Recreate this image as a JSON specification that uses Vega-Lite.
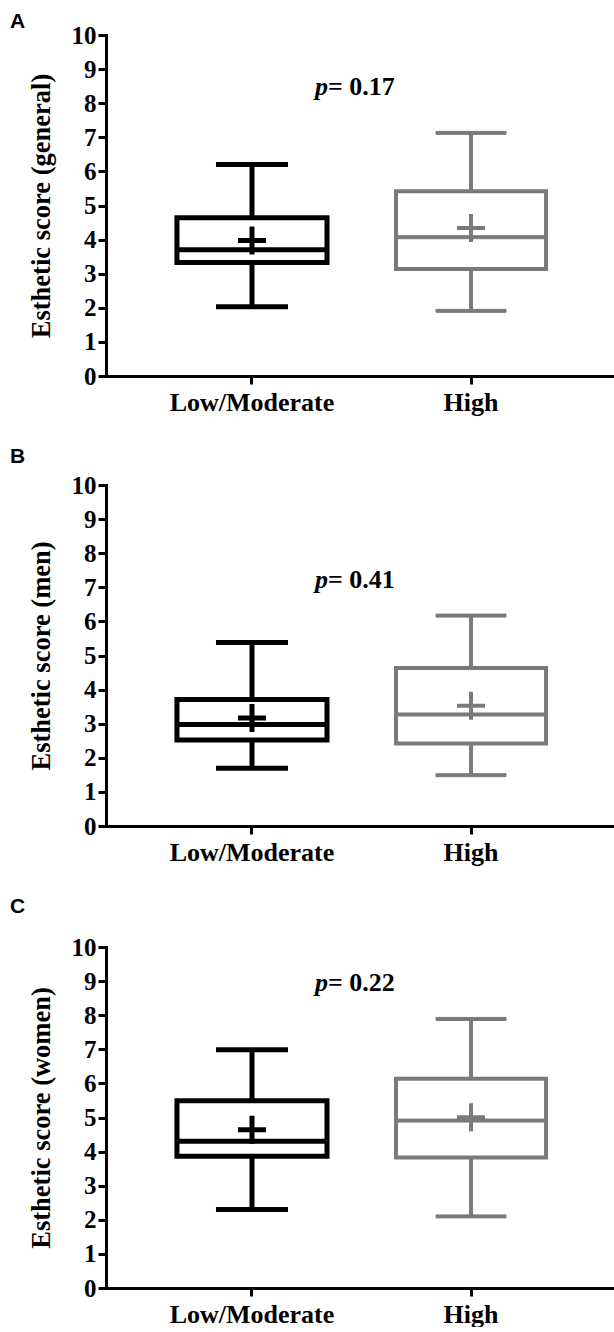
{
  "$schema": "https://vega.github.io/schema/vega-lite/v6.json",
  "background": "white",
  "padding": {"left": 10, "top": 11, "right": 0, "bottom": 0},
  "spacing": 31,
  "datasets": {
    "general": [
      {"group": "Low/Moderate", "min": 2.03, "q1": 3.33, "median": 3.70, "q3": 4.64, "max": 6.2, "mean": 3.97},
      {"group": "High", "min": 1.91, "q1": 3.14, "median": 4.07, "q3": 5.42, "max": 7.13, "mean": 4.34}
    ],
    "men": [
      {"group": "Low/Moderate", "min": 1.69, "q1": 2.52, "median": 2.98, "q3": 3.71, "max": 5.38, "mean": 3.17},
      {"group": "High", "min": 1.49, "q1": 2.42, "median": 3.27, "q3": 4.63, "max": 6.17, "mean": 3.53}
    ],
    "women": [
      {"group": "Low/Moderate", "min": 2.30, "q1": 3.86, "median": 4.30, "q3": 5.49, "max": 6.99, "mean": 4.64},
      {"group": "High", "min": 2.10, "q1": 3.83, "median": 4.91, "q3": 6.14, "max": 7.89, "mean": 5.01}
    ]
  },
  "vconcat": [
    {
      "title": {"text": "A", "offset": -9},
      "width": 511, "height": 341,
      "data": {"name": "general"},
      "encoding": {"x": {"field": "group", "type": "nominal", "sort": ["Low/Moderate", "High"], "scale": {"paddingInner": 0.315, "paddingOuter": 0.324}, "axis": {"title": null, "labelFont": "Liberation Serif", "labelFontWeight": "bold", "labelFontSize": 26, "labelPadding": 5, "labelAngle": 0}}},
      "layer": [
        {"mark": {"type": "rule"}, "encoding": {"y": {"field": "min", "type": "quantitative", "scale": {"domain": [0, 10], "nice": false}, "axis": {"title": "Esthetic score (general)", "labelFont": "Liberation Serif", "labelFontWeight": "bold", "labelFontSize": 25, "labelPadding": 2, "titleFont": "Liberation Serif", "titleFontSize": 26.5, "titlePadding": 16}}, "y2": {"field": "max"}, "color": {"field": "group", "type": "nominal", "scale": {"domain": ["Low/Moderate", "High"], "range": ["#000000", "#7a7a7a"]}, "legend": null}, "strokeWidth": {"condition": {"test": "datum.group === 'High'", "value": 4}, "value": 5}}},
        {"mark": {"type": "bar", "fill": "white"}, "encoding": {"y": {"field": "q1", "type": "quantitative"}, "y2": {"field": "q3"}, "stroke": {"field": "group", "type": "nominal", "scale": {"domain": ["Low/Moderate", "High"], "range": ["#000000", "#7a7a7a"]}, "legend": null}, "strokeWidth": {"condition": {"test": "datum.group === 'High'", "value": 4}, "value": 5}}},
        {"mark": {"type": "tick", "size": 148, "thickness": 3, "opacity": 1}, "encoding": {"y": {"field": "median", "type": "quantitative"}, "color": {"field": "group", "type": "nominal", "legend": null}, "stroke": {"field": "group", "type": "nominal", "legend": null}, "strokeWidth": {"condition": {"test": "datum.group === 'High'", "value": 1}, "value": 2}}},
        {"mark": {"type": "tick", "size": 70, "thickness": 3, "opacity": 1}, "encoding": {"y": {"field": "min", "type": "quantitative"}, "color": {"field": "group", "type": "nominal", "legend": null}, "stroke": {"field": "group", "type": "nominal", "legend": null}, "strokeWidth": {"condition": {"test": "datum.group === 'High'", "value": 1}, "value": 2}}},
        {"mark": {"type": "tick", "size": 70, "thickness": 3, "opacity": 1}, "encoding": {"y": {"field": "max", "type": "quantitative"}, "color": {"field": "group", "type": "nominal", "legend": null}, "stroke": {"field": "group", "type": "nominal", "legend": null}, "strokeWidth": {"condition": {"test": "datum.group === 'High'", "value": 1}, "value": 2}}},
        {"mark": {"type": "point", "shape": "M-1,0L1,0M0,-1L0,1", "size": 784, "filled": false, "opacity": 1}, "encoding": {"y": {"field": "mean", "type": "quantitative"}, "color": {"field": "group", "type": "nominal", "legend": null}, "strokeWidth": {"condition": {"test": "datum.group === 'High'", "value": 4}, "value": 5}}},
        {"data": {"values": [{"p": "= 0.17"}]}, "mark": {"type": "text", "align": "left", "baseline": "middle", "dx": -143, "font": "Liberation Serif", "fontWeight": "bold", "fontSize": 26, "color": "black"}, "encoding": {"x": {"datum": "High"}, "y": {"datum": 8.47}, "text": {"field": "p"}}},
        {"data": {"values": [{"p": "= 0.17"}]}, "mark": {"type": "text", "align": "right", "baseline": "middle", "dx": -143, "font": "Liberation Serif", "fontWeight": "bold", "fontStyle": "italic", "fontSize": 26, "color": "black", "text": "p"}, "encoding": {"x": {"datum": "High"}, "y": {"datum": 8.47}}}
      ]
    },
    {
      "title": {"text": "B", "offset": 6},
      "width": 511, "height": 341,
      "data": {"name": "men"},
      "encoding": {"x": {"field": "group", "type": "nominal", "sort": ["Low/Moderate", "High"], "scale": {"paddingInner": 0.315, "paddingOuter": 0.324}, "axis": {"title": null, "labelFont": "Liberation Serif", "labelFontWeight": "bold", "labelFontSize": 26, "labelPadding": 5, "labelAngle": 0}}},
      "layer": [
        {"mark": {"type": "rule"}, "encoding": {"y": {"field": "min", "type": "quantitative", "scale": {"domain": [0, 10], "nice": false}, "axis": {"title": "Esthetic score (men)", "labelFont": "Liberation Serif", "labelFontWeight": "bold", "labelFontSize": 25, "labelPadding": 2, "titleFont": "Liberation Serif", "titleFontSize": 26.5, "titlePadding": 16}}, "y2": {"field": "max"}, "color": {"field": "group", "type": "nominal", "scale": {"domain": ["Low/Moderate", "High"], "range": ["#000000", "#7a7a7a"]}, "legend": null}, "strokeWidth": {"condition": {"test": "datum.group === 'High'", "value": 4}, "value": 5}}},
        {"mark": {"type": "bar", "fill": "white"}, "encoding": {"y": {"field": "q1", "type": "quantitative"}, "y2": {"field": "q3"}, "stroke": {"field": "group", "type": "nominal", "scale": {"domain": ["Low/Moderate", "High"], "range": ["#000000", "#7a7a7a"]}, "legend": null}, "strokeWidth": {"condition": {"test": "datum.group === 'High'", "value": 4}, "value": 5}}},
        {"mark": {"type": "tick", "size": 148, "thickness": 3, "opacity": 1}, "encoding": {"y": {"field": "median", "type": "quantitative"}, "color": {"field": "group", "type": "nominal", "legend": null}, "stroke": {"field": "group", "type": "nominal", "legend": null}, "strokeWidth": {"condition": {"test": "datum.group === 'High'", "value": 1}, "value": 2}}},
        {"mark": {"type": "tick", "size": 70, "thickness": 3, "opacity": 1}, "encoding": {"y": {"field": "min", "type": "quantitative"}, "color": {"field": "group", "type": "nominal", "legend": null}, "stroke": {"field": "group", "type": "nominal", "legend": null}, "strokeWidth": {"condition": {"test": "datum.group === 'High'", "value": 1}, "value": 2}}},
        {"mark": {"type": "tick", "size": 70, "thickness": 3, "opacity": 1}, "encoding": {"y": {"field": "max", "type": "quantitative"}, "color": {"field": "group", "type": "nominal", "legend": null}, "stroke": {"field": "group", "type": "nominal", "legend": null}, "strokeWidth": {"condition": {"test": "datum.group === 'High'", "value": 1}, "value": 2}}},
        {"mark": {"type": "point", "shape": "M-1,0L1,0M0,-1L0,1", "size": 784, "filled": false, "opacity": 1}, "encoding": {"y": {"field": "mean", "type": "quantitative"}, "color": {"field": "group", "type": "nominal", "legend": null}, "strokeWidth": {"condition": {"test": "datum.group === 'High'", "value": 4}, "value": 5}}},
        {"data": {"values": [{"p": "= 0.41"}]}, "mark": {"type": "text", "align": "left", "baseline": "middle", "dx": -143, "font": "Liberation Serif", "fontWeight": "bold", "fontSize": 26, "color": "black"}, "encoding": {"x": {"datum": "High"}, "y": {"datum": 7.22}, "text": {"field": "p"}}},
        {"data": {"values": [{"p": "= 0.41"}]}, "mark": {"type": "text", "align": "right", "baseline": "middle", "dx": -143, "font": "Liberation Serif", "fontWeight": "bold", "fontStyle": "italic", "fontSize": 26, "color": "black", "text": "p"}, "encoding": {"x": {"datum": "High"}, "y": {"datum": 7.22}}}
      ]
    },
    {
      "title": {"text": "C", "offset": 18},
      "width": 511, "height": 341,
      "data": {"name": "women"},
      "encoding": {"x": {"field": "group", "type": "nominal", "sort": ["Low/Moderate", "High"], "scale": {"paddingInner": 0.315, "paddingOuter": 0.324}, "axis": {"title": null, "labelFont": "Liberation Serif", "labelFontWeight": "bold", "labelFontSize": 26, "labelPadding": 5, "labelAngle": 0}}},
      "layer": [
        {"mark": {"type": "rule"}, "encoding": {"y": {"field": "min", "type": "quantitative", "scale": {"domain": [0, 10], "nice": false}, "axis": {"title": "Esthetic score (women)", "labelFont": "Liberation Serif", "labelFontWeight": "bold", "labelFontSize": 25, "labelPadding": 2, "titleFont": "Liberation Serif", "titleFontSize": 26.5, "titlePadding": 16}}, "y2": {"field": "max"}, "color": {"field": "group", "type": "nominal", "scale": {"domain": ["Low/Moderate", "High"], "range": ["#000000", "#7a7a7a"]}, "legend": null}, "strokeWidth": {"condition": {"test": "datum.group === 'High'", "value": 4}, "value": 5}}},
        {"mark": {"type": "bar", "fill": "white"}, "encoding": {"y": {"field": "q1", "type": "quantitative"}, "y2": {"field": "q3"}, "stroke": {"field": "group", "type": "nominal", "scale": {"domain": ["Low/Moderate", "High"], "range": ["#000000", "#7a7a7a"]}, "legend": null}, "strokeWidth": {"condition": {"test": "datum.group === 'High'", "value": 4}, "value": 5}}},
        {"mark": {"type": "tick", "size": 148, "thickness": 3, "opacity": 1}, "encoding": {"y": {"field": "median", "type": "quantitative"}, "color": {"field": "group", "type": "nominal", "legend": null}, "stroke": {"field": "group", "type": "nominal", "legend": null}, "strokeWidth": {"condition": {"test": "datum.group === 'High'", "value": 1}, "value": 2}}},
        {"mark": {"type": "tick", "size": 70, "thickness": 3, "opacity": 1}, "encoding": {"y": {"field": "min", "type": "quantitative"}, "color": {"field": "group", "type": "nominal", "legend": null}, "stroke": {"field": "group", "type": "nominal", "legend": null}, "strokeWidth": {"condition": {"test": "datum.group === 'High'", "value": 1}, "value": 2}}},
        {"mark": {"type": "tick", "size": 70, "thickness": 3, "opacity": 1}, "encoding": {"y": {"field": "max", "type": "quantitative"}, "color": {"field": "group", "type": "nominal", "legend": null}, "stroke": {"field": "group", "type": "nominal", "legend": null}, "strokeWidth": {"condition": {"test": "datum.group === 'High'", "value": 1}, "value": 2}}},
        {"mark": {"type": "point", "shape": "M-1,0L1,0M0,-1L0,1", "size": 784, "filled": false, "opacity": 1}, "encoding": {"y": {"field": "mean", "type": "quantitative"}, "color": {"field": "group", "type": "nominal", "legend": null}, "strokeWidth": {"condition": {"test": "datum.group === 'High'", "value": 4}, "value": 5}}},
        {"data": {"values": [{"p": "= 0.22"}]}, "mark": {"type": "text", "align": "left", "baseline": "middle", "dx": -143, "font": "Liberation Serif", "fontWeight": "bold", "fontSize": 26, "color": "black"}, "encoding": {"x": {"datum": "High"}, "y": {"datum": 8.94}, "text": {"field": "p"}}},
        {"data": {"values": [{"p": "= 0.22"}]}, "mark": {"type": "text", "align": "right", "baseline": "middle", "dx": -143, "font": "Liberation Serif", "fontWeight": "bold", "fontStyle": "italic", "fontSize": 26, "color": "black", "text": "p"}, "encoding": {"x": {"datum": "High"}, "y": {"datum": 8.94}}}
      ]
    }
  ],
  "config": {
    "view": {"stroke": null},
    "font": "Liberation Serif",
    "style": {
      "guide-label": {"font": "Liberation Serif", "fontWeight": "bold", "fill": "black"},
      "guide-title": {"font": "Liberation Serif", "fontWeight": "bold", "fill": "black"}
    },
    "title": {"anchor": "start", "frame": "bounds", "font": "Liberation Sans", "fontSize": 21, "fontWeight": "bold", "color": "black", "dx": -18},
    "axis": {
      "grid": false,
      "domainColor": "black", "domainWidth": 3, "domainCap": "square",
      "tickColor": "black", "tickWidth": 3, "tickSize": 8,
      "labelFont": "Liberation Serif", "labelFontWeight": "bold", "labelColor": "black",
      "titleFont": "Liberation Serif", "titleFontWeight": "bold", "titleColor": "black"
    },
    "axisY": {"values": [0, 1, 2, 3, 4, 5, 6, 7, 8, 9, 10]}
  }
}
